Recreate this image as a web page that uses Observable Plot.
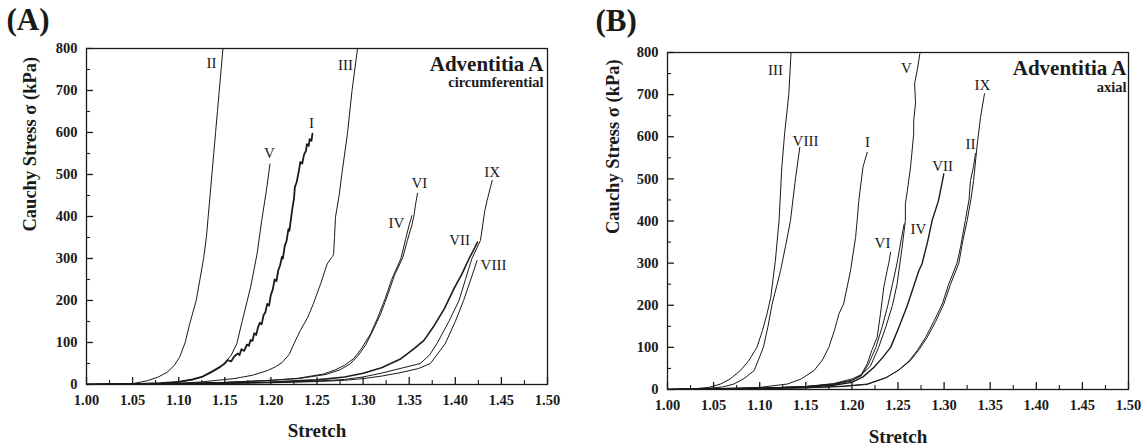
<!DOCTYPE html>
<html><head><meta charset="utf-8">
<script src="https://cdn.jsdelivr.net/npm/d3@7"></script>
<script src="https://cdn.jsdelivr.net/npm/@observablehq/plot@0.6"></script>
<style>
body{margin:0;background:#fff;}
#wrap{position:relative;width:1147px;height:448px;overflow:hidden;background:#fff;}
#wrap > svg{position:absolute;top:0;}
</style></head><body><div id="wrap"></div>
<script>
// ---- tick values ----
const xMajor = [1.00,1.05,1.10,1.15,1.20,1.25,1.30,1.35,1.40,1.45,1.50];
const xMinor = [1.025,1.075,1.125,1.175,1.225,1.275,1.325,1.375,1.425,1.475];
const yMajor = [0,100,200,300,400,500,600,700,800];
const yMinor = [50,150,250,350,450,550,650,750];

// ---- Panel A: circumferential (stretch, Cauchy stress kPa) ----
const A_I = [[1.00,0],[1.05,1],[1.08,3],[1.10,6],[1.115,12],[1.125,18],[1.132,26],[1.138,33],[1.145,42],[1.150,50],[1.153,58],[1.157,55],[1.160,66],[1.164,74],[1.166,70],[1.168,84],[1.171,80],[1.174,95],[1.176,92],[1.178,106],[1.180,104],[1.182,122],[1.184,118],[1.186,136],[1.188,147],[1.190,143],[1.192,165],[1.194,172],[1.196,192],[1.198,188],[1.200,214],[1.202,226],[1.204,250],[1.206,246],[1.208,272],[1.210,284],[1.212,304],[1.213,300],[1.215,330],[1.217,342],[1.219,370],[1.220,366],[1.222,398],[1.223,415],[1.225,442],[1.226,470],[1.228,482],[1.230,505],[1.232,530],[1.234,526],[1.236,548],[1.238,556],[1.239,572],[1.241,568],[1.242,584],[1.244,580],[1.245,597]];
const A_II = [[1.00,0],[1.03,1],[1.05,2],[1.066,9],[1.078,18],[1.088,30],[1.095,45],[1.101,65],[1.107,100],[1.112,145],[1.119,200],[1.123,250],[1.127,300],[1.130,350],[1.132,400],[1.134,450],[1.136,500],[1.138,550],[1.140,600],[1.142,650],[1.144,700],[1.146,750],[1.148,800]];
const A_III = [[1.00,0],[1.05,1],[1.10,3],[1.124,6],[1.16,14],[1.18,22],[1.196,33],[1.205,42],[1.212,52],[1.220,72],[1.225,97],[1.232,129],[1.240,160],[1.246,192],[1.254,240],[1.261,287],[1.265,300],[1.267,305],[1.268,311],[1.269,350],[1.270,398],[1.274,450],[1.277,502],[1.283,597],[1.288,700],[1.294,800]];
const A_IV = [[1.00,0],[1.10,2],[1.15,5],[1.20,10],[1.23,15],[1.257,25],[1.270,35],[1.280,46],[1.290,62],[1.298,85],[1.308,120],[1.316,160],[1.324,205],[1.331,250],[1.341,300],[1.346,345],[1.350,380],[1.353,402]];
const A_V = [[1.00,0],[1.05,1],[1.08,3],[1.10,6],[1.115,11],[1.124,17],[1.135,28],[1.149,49],[1.157,70],[1.163,97],[1.169,152],[1.178,232],[1.185,311],[1.190,390],[1.195,460],[1.199,525]];
const A_VI = [[1.00,0],[1.10,2],[1.15,5],[1.20,10],[1.23,14],[1.26,24],[1.275,35],[1.286,49],[1.295,70],[1.303,95],[1.311,130],[1.319,168],[1.327,215],[1.334,260],[1.343,302],[1.348,343],[1.353,380],[1.355,400],[1.357,430],[1.359,455]];
const A_VII = [[1.00,0],[1.10,2],[1.20,6],[1.25,11],[1.28,18],[1.30,27],[1.32,40],[1.34,60],[1.355,85],[1.366,105],[1.377,140],[1.388,180],[1.399,230],[1.407,262],[1.415,300],[1.421,325],[1.424,339]];
const A_VIII = [[1.00,0],[1.10,1],[1.20,4],[1.25,7],[1.28,10],[1.30,14],[1.32,20],[1.34,28],[1.36,38],[1.373,50],[1.389,97],[1.400,150],[1.409,200],[1.418,258],[1.4236,295]];
const A_IX = [[1.00,0],[1.10,1],[1.20,5],[1.25,8],[1.28,12],[1.30,18],[1.32,27],[1.34,38],[1.362,50],[1.372,70],[1.380,97],[1.393,150],[1.404,200],[1.411,250],[1.418,300],[1.4273,343],[1.432,414],[1.4345,438],[1.440,486]];
const A_labelText = ["I","II","III","IV","V","VI","VII","VIII","IX"];
const A_labelX = [1.244,1.1356,1.281,1.336,1.1985,1.361,1.4046,1.4414,1.440];
const A_labelY = [621,764,760,383,550,479,343,283,505];

// ---- Panel B: axial ----
const B_I = [[1.00,0],[1.05,2],[1.10,5],[1.13,13],[1.145,25],[1.159,45],[1.168,70],[1.175,100],[1.181,140],[1.184,164],[1.186,180],[1.191,203],[1.1985,282],[1.204,361],[1.2057,401],[1.2075,449],[1.212,528],[1.2166,563]];
const B_II = [[1.00,0],[1.10,2],[1.15,4],[1.19,7],[1.2166,12],[1.236,27],[1.250,45],[1.262,68],[1.271,93],[1.280,124],[1.289,162],[1.298,203],[1.305,250],[1.314,300],[1.318,340],[1.323,401],[1.327,450],[1.3286,496],[1.332,530],[1.334,560]];
const B_III = [[1.00,0],[1.03,2],[1.045,5],[1.0575,13],[1.068,25],[1.079,45],[1.088,68],[1.097,100],[1.103,140],[1.108,180],[1.112,219],[1.117,306],[1.121,401],[1.124,528],[1.127,607],[1.1316,702],[1.134,800]];
const B_IV = [[1.00,0],[1.10,3],[1.15,7],[1.18,13],[1.20,22],[1.21,32],[1.218,60],[1.226,100],[1.233,150],[1.239,200],[1.244,250],[1.249,300],[1.253,350],[1.2567,393]];
const B_V = [[1.00,0],[1.10,3],[1.15,7],[1.18,14],[1.20,25],[1.21,35],[1.22,55],[1.229,100],[1.237,150],[1.244,200],[1.249,250],[1.2545,338],[1.258,401],[1.258,441],[1.260,470],[1.2636,528],[1.265,560],[1.267,607],[1.267,638],[1.269,680],[1.268,726],[1.271,760],[1.2737,797]];
const B_VI = [[1.00,0],[1.10,3],[1.15,7],[1.18,12],[1.20,20],[1.21,35],[1.2166,61],[1.222,95],[1.2274,124],[1.231,180],[1.2346,243],[1.238,280],[1.240,300],[1.242,326]];
const B_VII = [[1.00,0],[1.10,3],[1.15,6],[1.18,10],[1.20,17],[1.212,30],[1.224,53],[1.233,75],[1.242,100],[1.251,148],[1.260,199],[1.2726,282],[1.276,298],[1.282,350],[1.287,401],[1.294,449],[1.2997,512]];
const B_VIII = [[1.00,0],[1.04,2],[1.06,6],[1.072,13],[1.083,26],[1.094,45],[1.104,100],[1.109,150],[1.1135,203],[1.1226,282],[1.128,340],[1.1334,401],[1.136,450],[1.139,504],[1.1435,575]];
const B_IX = [[1.00,0],[1.10,2],[1.15,4],[1.19,8],[1.2166,13],[1.238,29],[1.252,48],[1.2636,69],[1.273,95],[1.2817,124],[1.291,162],[1.2997,203],[1.307,250],[1.316,300],[1.320,350],[1.325,401],[1.329,450],[1.332,496],[1.336,583],[1.3395,646],[1.3438,702]];
const B_labelText = ["I","II","III","IV","V","VI","VII","VIII","IX"];
const B_labelX = [1.2169,1.3286,1.1171,1.2722,1.2592,1.2332,1.2983,1.1497,1.3416];
const B_labelY = [586,582,757,380,762,347,529,589,722];

const FONT = "'Liberation Serif','Times New Roman',Times,serif";

function panel(o) {
  const innerW = o.width - o.ml - o.mr;
  const innerH = o.height - o.mt - o.mb;
  const labels = o.labelText.map((t, i) => ({t, x: o.labelX[i], y: o.labelY[i]}));
  const ink = "#1a1a1a";
  const marks = [
    Plot.frame({stroke: ink, strokeWidth: 1.3}),
    Plot.tickX(xMajor, {x: d => d, insetTop: innerH - 7, stroke: ink, strokeWidth: 1.3}),
    Plot.tickX(xMinor, {x: d => d, insetTop: innerH - 4, stroke: ink, strokeWidth: 1.1}),
    Plot.tickY(yMajor, {y: d => d, insetRight: innerW - 7, stroke: ink, strokeWidth: 1.3}),
    Plot.tickY(yMinor, {y: d => d, insetRight: innerW - 4, stroke: ink, strokeWidth: 1.1}),
    Plot.axisX({ticks: xMajor, tickFormat: d3.format(".2f"), tickSize: 0, tickPadding: 10, fontSize: 14.5, fontWeight: "bold", label: null, fill: ink}),
    Plot.axisY({ticks: yMajor, tickSize: 0, tickPadding: 9, fontSize: 14.5, fontWeight: "bold", label: null, fill: ink}),
    ...o.series.map(s => Plot.line(s.data, {x: d => d[0], y: d => d[1], stroke: ink, strokeWidth: s.w, clip: true})),
    Plot.text(labels, {x: "x", y: "y", text: "t", fontSize: 15, fill: ink}),
    Plot.text([o.letter], {frameAnchor: "top-left", textAnchor: "start", lineAnchor: "middle", dx: o.letterDx, dy: o.letterDy, fontSize: 31, fontWeight: "bold", fill: ink}),
    Plot.text(["Adventitia A"], {frameAnchor: "top-right", textAnchor: "end", lineAnchor: "middle", dx: o.titleDx, dy: 16, fontSize: 21, fontWeight: "bold", fill: ink}),
    Plot.text([o.sub], {frameAnchor: "top-right", textAnchor: "end", lineAnchor: "middle", dx: o.titleDx, dy: o.subDy, fontSize: 14.5, fontWeight: "bold", fill: ink}),
    Plot.text(["Stretch"], {frameAnchor: "bottom", lineAnchor: "middle", dy: o.xlabDy, fontSize: 19, fontWeight: "bold", fill: ink}),
    Plot.text(["Cauchy Stress σ (kPa)"], {frameAnchor: "left", rotate: -90, lineAnchor: "middle", dx: o.ylabDx, dy: o.ylabDy, fontSize: 18.5, fontWeight: "bold", fill: ink})
  ];
  const svg = Plot.plot({
    width: o.width, height: o.height,
    marginLeft: o.ml, marginRight: o.mr, marginTop: o.mt, marginBottom: o.mb,
    x: {type: "linear", domain: [1.0, 1.5]},
    y: {type: "linear", domain: [0, 800]},
    style: {fontFamily: FONT, background: "transparent", overflow: "visible"},
    marks
  });
  svg.style.left = o.left + "px";
  return svg;
}

const wrap = document.getElementById("wrap");
wrap.appendChild(panel({
  left: 0, width: 560, height: 448, ml: 86, mr: 13, mt: 48, mb: 64,
  series: [
    {data: A_I, w: 1.8}, {data: A_II, w: 1}, {data: A_III, w: 1}, {data: A_IV, w: 1},
    {data: A_V, w: 1}, {data: A_VI, w: 1}, {data: A_VII, w: 1.6}, {data: A_VIII, w: 1}, {data: A_IX, w: 1}
  ],
  labelText: A_labelText, labelX: A_labelX, labelY: A_labelY,
  letter: "(A)", letterDx: -80, letterDy: -28,
  sub: "circumferential", titleDx: -4, subDy: 34,
  xlabDy: 46, ylabDx: -56, ylabDy: 15
}));
wrap.appendChild(panel({
  left: 580, width: 567, height: 448, ml: 87, mr: 19, mt: 52, mb: 59,
  series: [
    {data: B_I, w: 1}, {data: B_II, w: 1}, {data: B_III, w: 1}, {data: B_IV, w: 1},
    {data: B_V, w: 1}, {data: B_VI, w: 1}, {data: B_VII, w: 1.4}, {data: B_VIII, w: 1}, {data: B_IX, w: 1}
  ],
  labelText: B_labelText, labelX: B_labelX, labelY: B_labelY,
  letter: "(B)", letterDx: -72, letterDy: -31,
  sub: "axial", titleDx: -2, subDy: 35,
  xlabDy: 47, ylabDx: -54, ylabDy: 13
}));
</script></body></html>
